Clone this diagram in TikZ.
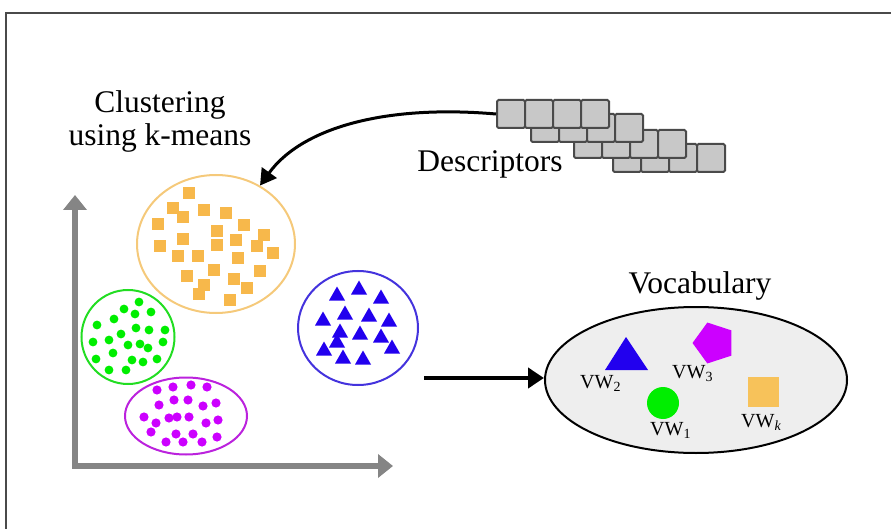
\documentclass[tikz,border=0pt]{standalone}
\usepackage{fontspec}
\setmainfont{Liberation Serif}
\usetikzlibrary{arrows.meta,shapes.geometric}
\definecolor{orsq}{HTML}{F7B84B}
\definecolor{orline}{HTML}{F5C97A}
\definecolor{grdot}{HTML}{00EE00}
\definecolor{grline}{HTML}{22DD22}
\definecolor{pudot}{HTML}{CC00FF}
\definecolor{puline}{HTML}{BB22DD}
\definecolor{bltri}{HTML}{2200EE}
\definecolor{blline}{HTML}{4433DD}
\definecolor{cellfill}{HTML}{C8C8C8}
\definecolor{celldraw}{HTML}{4A4A4A}
\definecolor{axisgray}{HTML}{858585}
\definecolor{vocfill}{HTML}{EEEEEE}
\definecolor{vocsq}{HTML}{F7C25A}
\tikzset{
  bigtext/.style={font=\fontsize{31.5}{33}\selectfont, align=center, inner sep=0pt},
  vwtext/.style={font=\fontsize{20}{22}\selectfont, inner sep=0pt, anchor=base west},
  cellbox/.style={draw=celldraw, fill=cellfill, line width=2pt, rounded corners=1.5pt,
    minimum width=28pt, minimum height=28pt, inner sep=0pt, anchor=north west},
  axisline/.style={draw=axisgray, line width=5.5pt, -{Triangle[length=15pt,width=23pt]}},
  bigarrow/.style={draw=black, line width=4.5pt, -{Triangle[length=16pt,width=20pt]}},
  curvearrow/.style={draw=black, line width=3pt, -{Triangle[length=16pt,width=18pt]}},
  clusterring/.style={ellipse, inner sep=0pt, line width=2pt},
}
\begin{document}
\begin{tikzpicture}[x=1pt,y=-1pt]
\useasboundingbox (0,0) rectangle (891,529);
% frame
\draw[draw=celldraw, line width=2pt] (6,529) -- (6,13) -- (891,13);

% axes
\coordinate (origin) at (75,466);
\coordinate (ytip) at (75,195);
\coordinate (xtip) at (393,466);
\draw[axisline] ([yshift=-2.75pt]origin) -- (ytip);
\draw[axisline] ([xshift=-2.75pt]origin) -- (xtip);

% texts
\node[bigtext] (clust) at (160,121) {Clustering\\using k-means};
\node[bigtext, anchor=base] (desc) at (490,172) {Descriptors};
\node[bigtext, anchor=base] (vocabt) at (700,293) {Vocabulary};

% descriptor cells (back rows first)
\foreach \r/\x/\y in {4/612/143, 3/573/129, 2/530/113, 1/496/99} {
  \foreach \c in {1,2,3,4} {
    \node[cellbox] (d\r\c) at ({\x+28*(\c-1)},\y) {};
  }
}

% orange cluster
\node[clusterring, draw=orline, minimum width=158pt, minimum height=138pt] (orange) at (216,244) {};
\foreach \p in {(189,193),(173,208),(183,217),(204,210),(226,213),(158,224),(244,225),(217,231),
  (264,235),(183,239),(236,240),(160,246),(217,245),(257,246),(273,253),(178,256),(198,256),
  (238,258),(214,270),(260,271),(187,276),(234,279),(204,285),(247,288),(199,294),(230,300)}
  \fill[orsq] \p ++(-6,-6) rectangle ++(12,12);

% green cluster
\node[clusterring, draw=grline, minimum width=93pt, minimum height=94pt] (green) at (128,337) {};
\foreach \p in {(139,302),(124,309),(135,314),(151,312),(114,319),(97,325),(136,328),(149,330),
  (165,330),(121,334),(109,340),(93,342),(128,345),(140,344),(148,348),(163,342),(113,353),
  (96,359),(132,360),(143,362),(157,359),(109,370),(126,370)}
  \fill[grdot] \p circle[radius=4.4pt];

% purple cluster
\node[clusterring, draw=puline, minimum width=122pt, minimum height=77pt] (purple) at (186,416) {};
\foreach \p in {(157,390),(173,387),(191,385),(207,387),(159,405),(174,400),(188,400),(203,406),
  (216,403),(144,417),(156,423),(169,418),(177,417),(189,417),(206,423),(218,420),(151,432),
  (176,434),(193,434),(217,437),(166,442),(183,442),(202,442)}
  \fill[pudot] \p circle[radius=4.6pt];

% blue cluster
\node[clusterring, draw=blline, minimum width=120pt, minimum height=114pt] (blue) at (358,328) {};
\foreach \p in {(337,294),(359,288),(381,297),(323,319),(345,313),(369,315),(389,320),(340,331),
  (360,333),(381,336),(337,341),(392,347),(324,349),(343,357),(363,358)}
  \fill[bltri] \p ++(-8,6.5) -- ++(16,0) -- ++(-8,-14) -- cycle;

% vocabulary
\node[ellipse, draw=black, fill=vocfill, line width=2pt, inner sep=0pt,
  minimum width=302pt, minimum height=146pt] (vocab) at (696,380) {};
\fill[bltri] (605,370) -- (648,370) -- (626,337) -- cycle;
\node[regular polygon, regular polygon sides=5, fill=pudot, minimum size=43pt, inner sep=0pt,
  rotate=18] (pent) at (714,343) {};
\fill[grdot] (663,403) circle[radius=16pt];
\fill[vocsq] (748,377) rectangle (779,407);
\node[vwtext] (vw2) at (580,388) {VW\textsubscript{2}};
\node[vwtext] (vw3) at (672,378) {VW\textsubscript{3}};
\node[vwtext] (vw1) at (650,435) {VW\textsubscript{1}};
\node[vwtext] (vwk) at (741,427) {VW\textsubscript{\itshape k}};

% connectors
\draw[curvearrow] (d11.west) .. controls (380,104) and (300,130) .. (orange.53);
\coordinate (astart) at (424,378);
\draw[bigarrow] (astart) -- (astart -| vocab.west);
\end{tikzpicture}
\end{document}
